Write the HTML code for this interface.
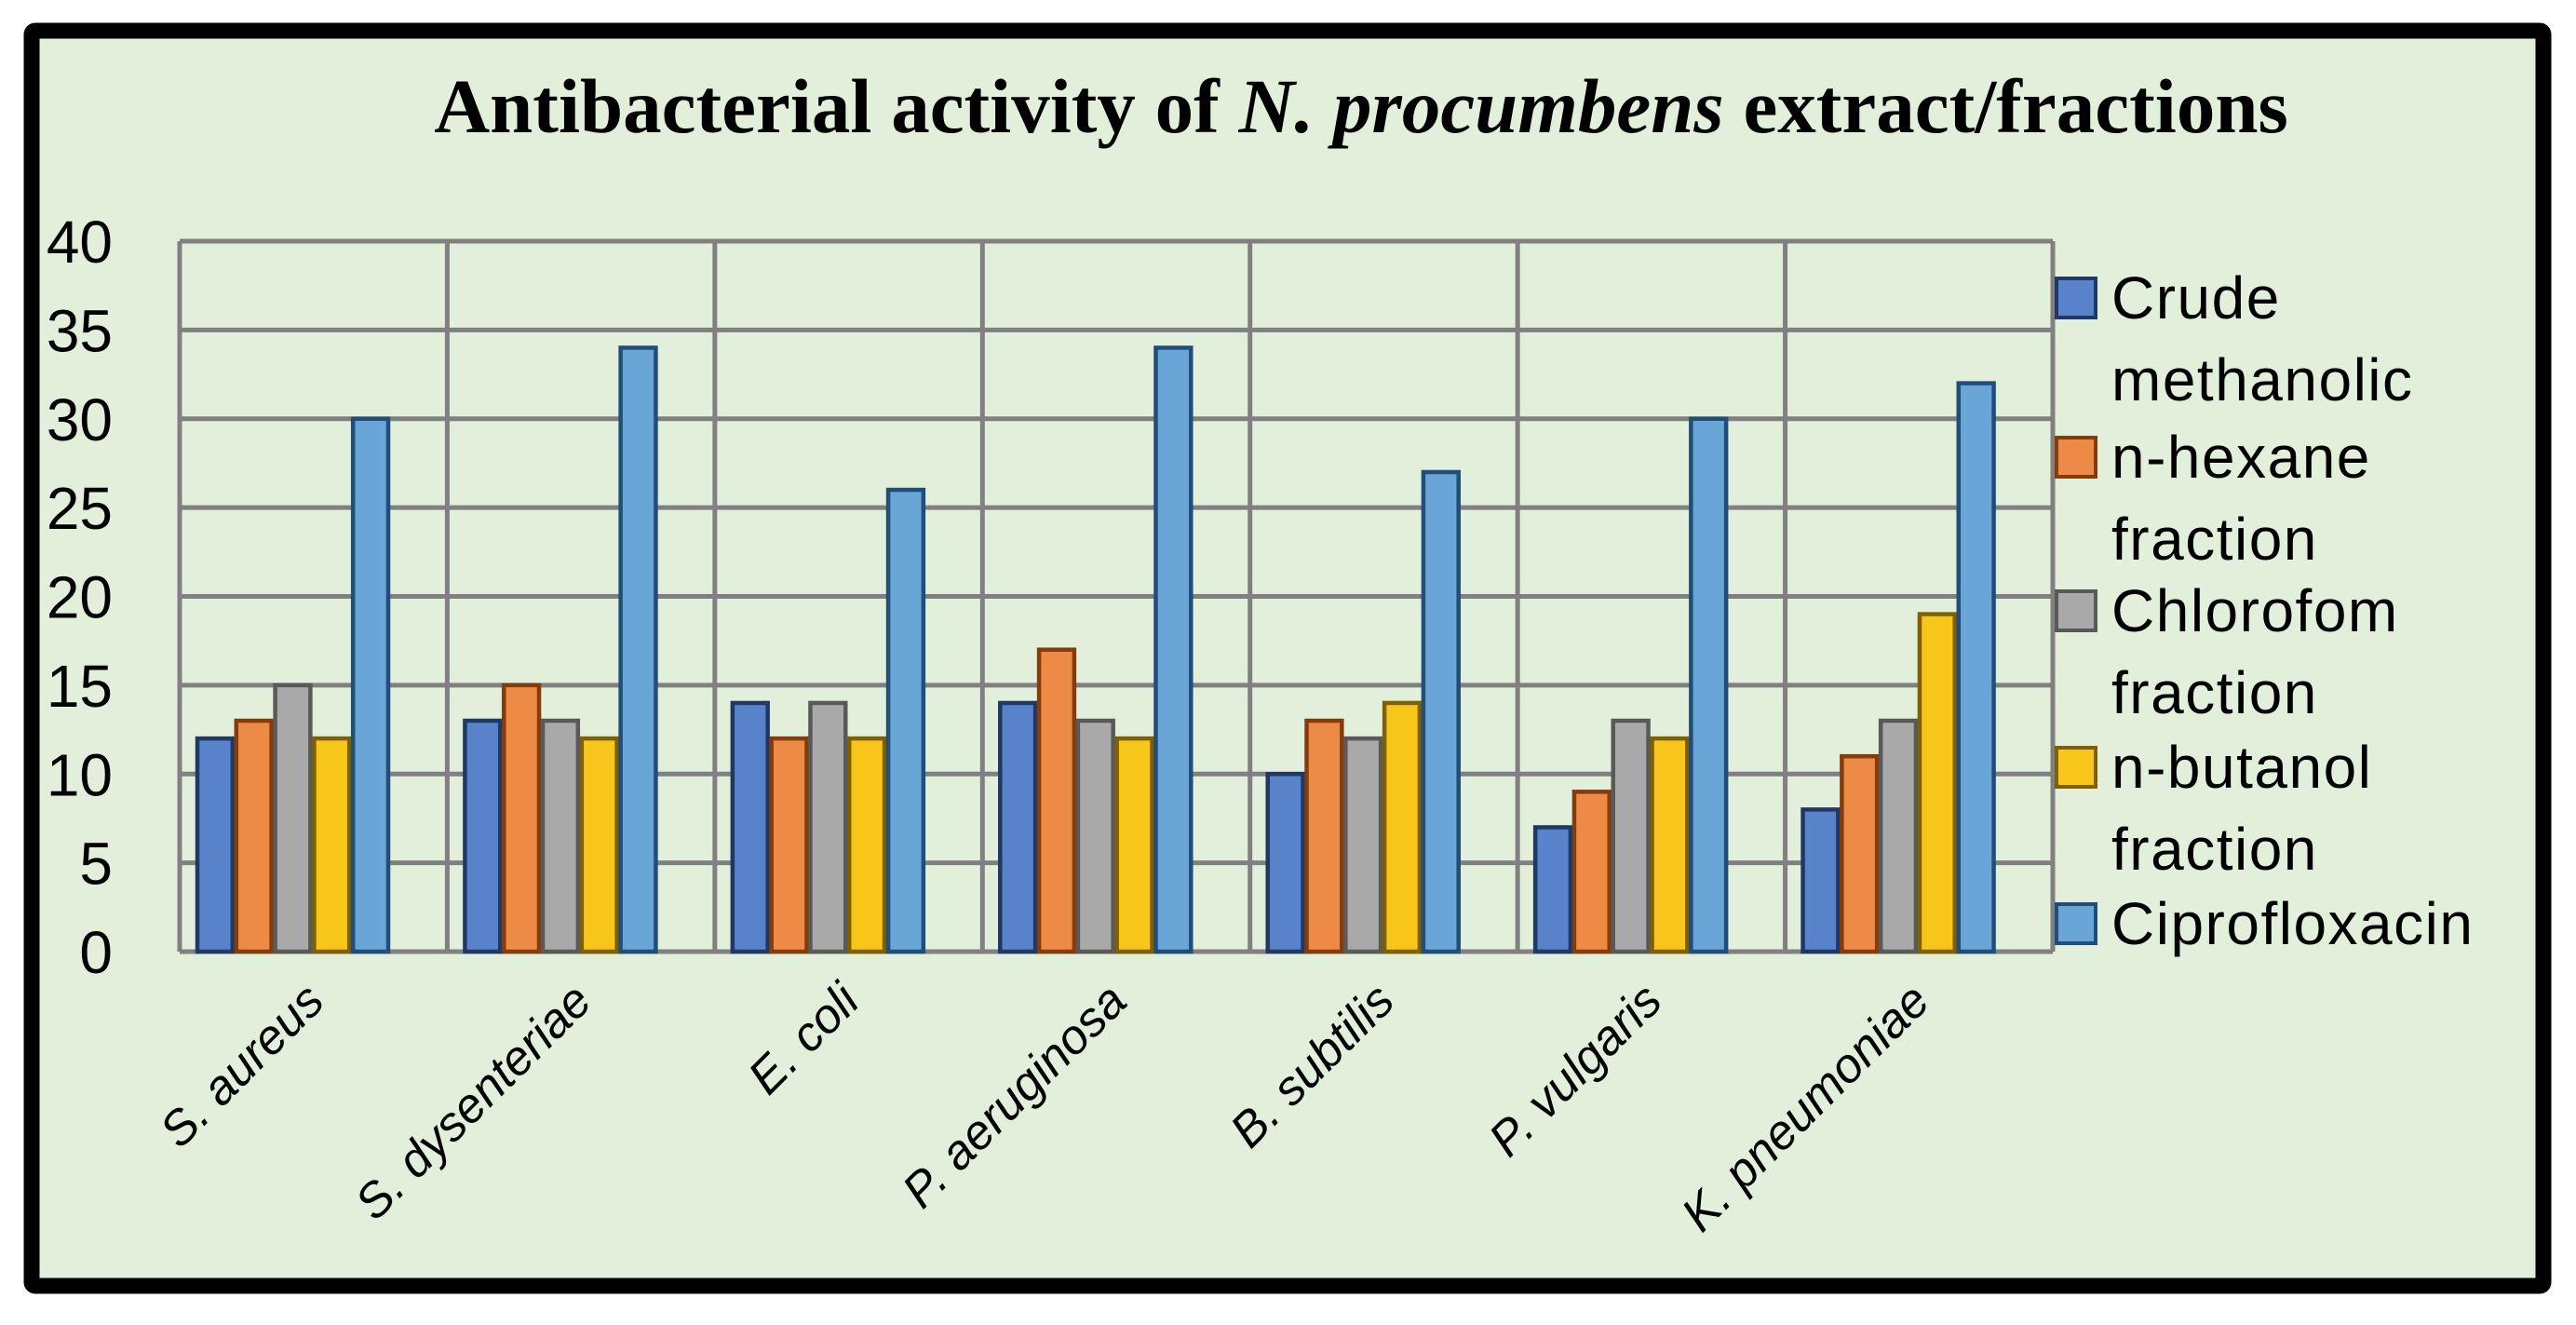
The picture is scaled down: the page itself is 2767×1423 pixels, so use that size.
<!DOCTYPE html>
<html><head><meta charset="utf-8">
<style>
html,body{margin:0;padding:0;background:#fff;}
svg{display:block;}
</style></head>
<body>
<svg id="chart" width="2767" height="1423" viewBox="0 0 2767 1423" xmlns="http://www.w3.org/2000/svg">
  <rect x="34" y="33" width="2698" height="1348" fill="#e2efda" stroke="#000" stroke-width="17" rx="4"/>
  <text x="1462" y="142" text-anchor="middle" font-family="'Liberation Serif', serif" font-weight="bold" font-size="83" fill="#000">Antibacterial activity of <tspan font-style="italic">N. procumbens</tspan> extract/fractions</text>
  <g id="grid"></g>
  <g id="bars"></g>
  <g id="labels"></g>
  <g id="legend"></g>
</svg>
<script>
const categories = ["S. aureus","S. dysenteriae","E. coli","P. aeruginosa","B. subtilis","P. vulgaris","K. pneumoniae"];
const seriesNames = ["Crude methanolic","n-hexane fraction","Chlorofom fraction","n-butanol fraction","Ciprofloxacin"];
const crude = [12,13,14,14,10,7,8];
const hexane = [13,15,12,17,13,9,11];
const chloroform = [15,13,14,13,12,13,13];
const butanol = [12,12,12,12,14,12,19];
const cipro = [30,34,26,34,27,30,32];
const yTicks = [0,5,10,15,20,25,30,35,40];
const legendLines = [["Crude","methanolic"],["n-hexane","fraction"],["Chlorofom","fraction"],["n-butanol","fraction"],["Ciprofloxacin"]];

const NS = "http://www.w3.org/2000/svg";
const L = 193, R = 2205, T = 259, B = 1022, YMAX = 40;
const catW = (R - L) / categories.length;
const y = v => B - (v / YMAX) * (B - T);
const xCat = i => L + i * catW;
const fills = ["#5882c9","#ed8a46","#a9a9a9","#f8c51b","#6aa5d7"];
const strokes = ["#1f3864","#843c0c","#595959","#7f6000","#1f4e79"];
const series = [crude, hexane, chloroform, butanol, cipro];

function mk(tag, attrs, parent){
  const el = document.createElementNS(NS, tag);
  for (const k in attrs) el.setAttribute(k, attrs[k]);
  parent.appendChild(el);
  return el;
}
const grid = document.getElementById("grid");
const bars = document.getElementById("bars");
const labels = document.getElementById("labels");
const legend = document.getElementById("legend");

yTicks.forEach(t => {
  const ln = mk("line", {x1:L, x2:R, y1:y(t), y2:y(t), stroke:"#808080", "stroke-width":5}, grid);
  
  
  const tx = mk("text", {x:121, y:y(t)+23, "text-anchor":"end", "font-family":"'Liberation Sans', sans-serif", "font-size":64, fill:"#000"}, labels);
  tx.textContent = t;
  
  
});
for (let i = 0; i <= categories.length; i++) {
  const ln = mk("line", {x1:xCat(i), x2:xCat(i), y1:T, y2:B, stroke:"#808080", "stroke-width":5}, grid);
  
  
}
const bw = 41.8, off = 17;
categories.forEach((c, i) => {
  series.forEach((s, j) => {
    const x0 = xCat(i) + off + j * bw;
    const r = mk("rect", {x:x0+2, y:y(s[i]), width:bw-4, height:B - y(s[i]), fill:fills[j], stroke:strokes[j], "stroke-width":4.5}, bars);
    
    
  });
  const cx = xCat(i) + catW / 2 + 14, cy = 1078;
  const tx = mk("text", {x:cx, y:cy, "text-anchor":"end", transform:`rotate(-45 ${cx} ${cy})`, "font-family":"'Liberation Sans', sans-serif", "font-style":"italic", "font-size":52, fill:"#000"}, labels);
  tx.textContent = c;
  
  
});
const legendY = [319, 490, 655, 823, 991];
legendLines.forEach((lines, j) => {
  const sq = mk("rect", {x:2209, y:legendY[j]-20, width:42, height:42, fill:fills[j], stroke:strokes[j], "stroke-width":4}, legend);
  
  
  lines.forEach((ln, k) => {
    const tx = mk("text", {x:2268, y:legendY[j] + 23 + k*88, "font-family":"'Liberation Sans', sans-serif", "font-size":64, "letter-spacing":1.5, fill:"#000"}, legend);
    tx.textContent = ln;
    
    
  });
});
</script>
</body></html>
